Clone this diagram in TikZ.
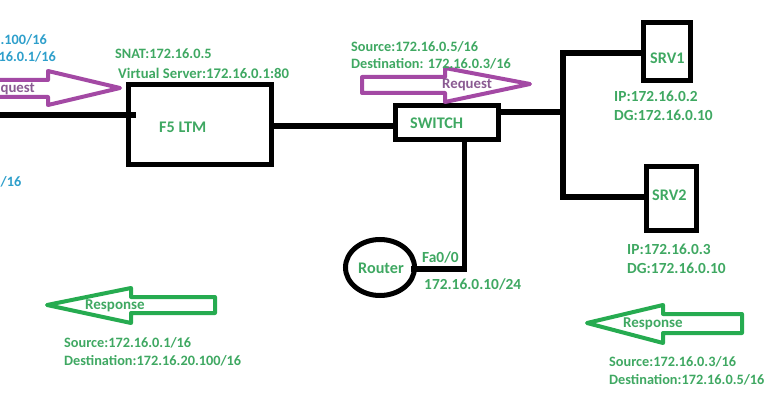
\documentclass[tikz,border=0pt]{standalone}
\usepackage{fontspec}
\usetikzlibrary{shapes.geometric}
\setmainfont{Carlito}
\definecolor{pur}{HTML}{A349A4}
\definecolor{grn}{HTML}{26AB50}
\definecolor{txtg}{HTML}{3FA862}
\definecolor{txtb}{HTML}{2E9FCB}
\definecolor{txtp}{HTML}{8A5A92}
\tikzset{
  box/.style={draw=black,line width=5pt,fill=none,inner sep=0pt},
  wire/.style={draw=black,line width=5.5pt},
  gt/.style={font=\bfseries\fontsize{14.3}{16}\selectfont,text=txtg,inner sep=0pt,anchor=west,yshift=-1pt},
  gm/.style={font=\bfseries\fontsize{15.4}{17}\selectfont,text=txtg,inner sep=0pt,anchor=west,yshift=-1pt},
  gd/.style={font=\bfseries\fontsize{16.2}{18}\selectfont,text=txtg,inner sep=0pt,anchor=west,yshift=-1pt},
  bt/.style={font=\bfseries\fontsize{14.3}{16}\selectfont,text=txtb,inner sep=0pt,anchor=east,yshift=-1pt},
  ptx/.style={font=\bfseries\fontsize{14.8}{16}\selectfont,text=txtp,inner sep=0pt,yshift=-1pt},
  parrow/.style={draw=pur,line width=4pt,line join=round},
  garrow/.style={draw=grn,line width=4pt,line join=round}
}
\begin{document}
\begin{tikzpicture}[x=1pt,y=-1pt]
\useasboundingbox (0,0) rectangle (779,409);
\clip (0,0) rectangle (779,409);
% devices
\node[box,minimum width=143pt,minimum height=80pt] (f5) at (200,124.5) {};
\node[box,minimum width=103pt,minimum height=34pt] (sw) at (447,122.5) {};
\node[box,minimum width=47pt,minimum height=58pt] (srv1) at (667,51.5) {};
\node[box,minimum width=50pt,minimum height=64pt] (srv2) at (671.5,198.5) {};
\node[draw=black,line width=5pt,ellipse,minimum width=69pt,minimum height=56pt,inner sep=0pt] (rt0) at (380,267.5) {};
\coordinate (lft) at (0,115);
\coordinate (lfi) at (136,115);
\coordinate (bus) at (563,112);
\coordinate (bt) at (563,53);
\coordinate (bb) at (563,197);
\coordinate (swd) at (464.5,269);
\coordinate (rtw) at (414,269);
% wires
\draw[wire] (lft) -- (lfi);
\draw[wire] (f5.east |- 0,126) -- (sw.west |- 0,126);
\draw[wire] (sw.east |- bus) -- (bus);
\draw[wire,line cap=rect] (bt) -- (bb);
\draw[wire] (bt) -- (srv1.west |- bt);
\draw[wire] (bb) -- (srv2.west |- bb);
\draw[wire] (sw.south -| swd) -- (swd);
\draw[wire,line cap=rect] (swd) -- (rtw);
% arrows
\draw[parrow] (0,80) -- (48,80) -- (48,71) -- (120,88) -- (48,105) -- (48,97) -- (0,97);
\draw[parrow] (362,77) -- (445,77) -- (445,68) -- (530,84) -- (445,102) -- (445,93) -- (362,93) -- cycle;
\draw[garrow] (47,305) -- (131,288) -- (131,297) -- (215,297) -- (215,313) -- (131,313) -- (131,323) -- cycle;
\draw[garrow] (587,323) -- (663,305) -- (663,314) -- (742,314) -- (742,333) -- (663,333) -- (663,343) -- cycle;
% labels
\node[bt] (a1) at (47,39) {.100/16};
\node[bt] (a2) at (56,56) {16.0.1/16};
\node[bt,anchor=west] (a3) at (0.5,181) {/16};
\node[ptx,anchor=east] (a4) at (35,88) {quest};
\node[gt] (b1) at (115,53) {SNAT:172.16.0.5};
\node[gt,font=\bfseries\fontsize{14.7}{16}\selectfont] (b2) at (118,72) {Virtual Server:172.16.0.1:80};
\node[gd] (b3) at (159,126) {F5 LTM};
\node[gt] (c1) at (351,46) {Source:172.16.0.5/16};
\node[gt] (c2) at (351,63) {Destination: 172.16.0.3/16};
\node[ptx,anchor=west] (c3) at (442,84) {Request};
\node[gd] (c4) at (410,122) {SWITCH};
\node[gd] (d1) at (650,57) {SRV1};
\node[gd] (d2) at (652,194) {SRV2};
\node[gm] (d3) at (614,95) {IP:172.16.0.2};
\node[gm] (d4) at (614,114) {DG:172.16.0.10};
\node[gm] (e1) at (627,248) {IP:172.16.0.3};
\node[gm] (e2) at (627,267) {DG:172.16.0.10};
\node[gd] (f1) at (358,267) {Router};
\node[gm] (f2) at (422,256) {Fa0/0};
\node[gm] (f3) at (424,283) {172.16.0.10/24};
\node[gt,font=\bfseries\fontsize{15}{16}\selectfont] (g1) at (85,305) {Response};
\node[gt] (g2) at (64,342) {Source:172.16.0.1/16};
\node[gt] (g3) at (64,360) {Destination:172.16.20.100/16};
\node[gt,font=\bfseries\fontsize{15}{16}\selectfont] (h1) at (623,323) {Response};
\node[gt] (h2) at (609,361) {Source:172.16.0.3/16};
\node[gt] (h3) at (609,379) {Destination:172.16.0.5/16};
\end{tikzpicture}
\end{document}
